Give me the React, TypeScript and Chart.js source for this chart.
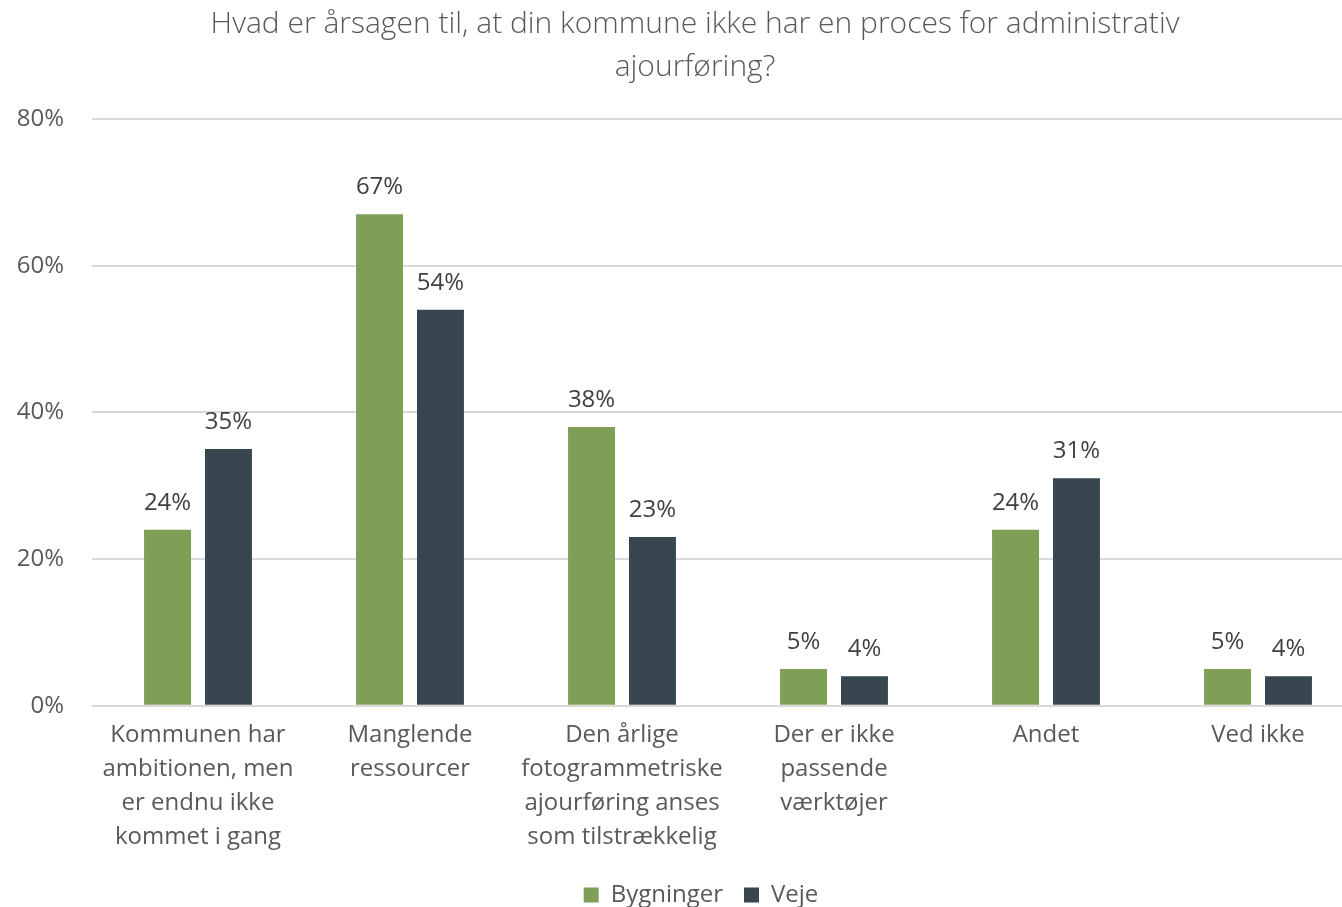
import React, { useEffect, useRef } from "react";
import { Chart, registerables } from "chart.js";
Chart.register(...registerables);

const titleLines = [
  "Hvad er årsagen til, at din kommune ikke har en proces for administrativ",
  "ajourføring?",
];
const categories = [
  ["Kommunen har", "ambitionen, men", "er endnu ikke", "kommet i gang"],
  ["Manglende", "ressourcer"],
  ["Den årlige", "fotogrammetriske", "ajourføring anses", "som tilstrækkelig"],
  ["Der er ikke", "passende", "værktøjer"],
  ["Andet"],
  ["Ved ikke"],
];
const seriesNames = ["Bygninger", "Veje"];
const bygninger = [24, 67, 38, 5, 24, 5];
const veje = [35, 54, 23, 4, 31, 4];
const yMin = 0;
const yMax = 80;
const yStep = 20;

const GREEN = "#7f9f57";
const DARK = "#37454f";
const TEXT = "#595959";
const FONT = "'Open Sans', sans-serif";

const titlePlugin = {
  id: "customTitle",
  afterDraw(chart: any) {
    const ctx = chart.ctx;
    ctx.save();
    ctx.fillStyle = TEXT;
    ctx.font = `300 30px ${FONT}`;
    ctx.textAlign = "center";
    ctx.textBaseline = "middle";
    const cx = 695;
    titleLines.forEach((line, i) => ctx.fillText(line, cx, 24 + i * 43));
    ctx.restore();
  },
};

const legendShift = {
  id: "legendShift",
  afterLayout(chart: any) {
    const lg = chart.legend;
    if (!lg) return;
    const dx = 701 - (lg.left + lg.right) / 2;
    lg.left += dx;
    lg.right += dx;
    lg.top -= 4;
    lg.bottom -= 4;
  },
};

const labelPlugin = {
  id: "barLabels",
  afterDatasetsDraw(chart: any) {
    const ctx = chart.ctx;
    ctx.save();
    ctx.fillStyle = "#404040";
    ctx.font = `24px ${FONT}`;
    ctx.textAlign = "center";
    ctx.textBaseline = "middle";
    chart.data.datasets.forEach((ds: any, di: number) => {
      const meta = chart.getDatasetMeta(di);
      meta.data.forEach((bar: any, i: number) => {
        ctx.fillText(`${ds.data[i]}%`, bar.x, bar.y - 27);
      });
    });
    ctx.restore();
  },
};

export default function App() {
  const ref = useRef<HTMLCanvasElement>(null);
  useEffect(() => {
    document.body.style.margin = "0";
    const chart = new Chart(ref.current!, {
      type: "bar",
      data: {
        labels: categories,
        datasets: [
          { label: seriesNames[0], data: bygninger, backgroundColor: GREEN },
          { label: seriesNames[1], data: veje, backgroundColor: DARK },
        ],
      },
      options: {
        responsive: false,
        animation: false,
        layout: { padding: { top: 119, left: 17, right: 0, bottom: -14 } },
        datasets: {
          bar: { categoryPercentage: 0.575, barPercentage: 0.77 },
        },
        plugins: {
          title: { display: false },
          tooltip: { enabled: false },
          legend: {
            position: "bottom",
            fullSize: false,
            labels: {
              color: TEXT,
              font: { family: FONT, size: 24 },
              boxWidth: 15,
              boxHeight: 15,
              padding: 21,
            },
          },
        },
        scales: {
          x: {
            grid: { display: false, drawTicks: false },
            border: { display: false },
            ticks: {
              color: TEXT,
              font: { family: FONT, size: 24, lineHeight: 1.42 },
              padding: 12,
              maxRotation: 0,
              autoSkip: false,
            },
          },
          y: {
            min: yMin,
            max: yMax,
            afterFit: (s: any) => {
              s.width = 75;
            },
            grid: { color: "#d9d9d9", lineWidth: 2, drawTicks: false },
            border: { display: false },
            ticks: {
              stepSize: yStep,
              color: TEXT,
              font: { family: FONT, size: 24 },
              padding: 28,
              callback: (v: any) => `${v}%`,
            },
          },
        },
      },
      plugins: [titlePlugin, labelPlugin, legendShift],
    });
    return () => chart.destroy();
  }, []);
  return (
    <div style={{ width: 1342, height: 907, background: "#fff", overflow: "hidden", position: "relative" }}>
      <canvas ref={ref} width={1364} height={907} style={{ display: "block" }} />
    </div>
  );
}
